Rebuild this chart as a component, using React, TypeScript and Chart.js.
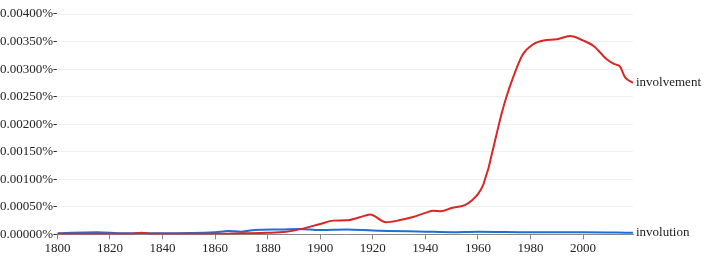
import React, { useEffect, useRef } from "react";
import { Chart, registerables } from "chart.js";

Chart.register(...registerables);

const involvementYears = [1800, 1815, 1828, 1832, 1836, 1850, 1860, 1870, 1880, 1887, 1893, 1900, 1905, 1910, 1915, 1919, 1925, 1930, 1935, 1940, 1943, 1946, 1950, 1955, 1958, 1960, 1962, 1963, 1964, 1965, 1966, 1967, 1969, 1971, 1973, 1977, 1981, 1985, 1990, 1995, 2000, 2004, 2009, 2012, 2014, 2016, 2019];
const involvementValues = [0.00001, 0.00001, 0.00001, 0.00003, 0.00001, 0.00001, 0.00001, 0.00002, 0.00003, 0.00005, 0.0001, 0.00019, 0.00025, 0.000255, 0.00031, 0.00036, 0.00022, 0.000255, 0.00031, 0.00039, 0.00043, 0.00042, 0.00048, 0.00053, 0.00063, 0.00073, 0.0009, 0.00105, 0.0012, 0.0014, 0.0016, 0.0018, 0.00219, 0.00252, 0.0028, 0.00326, 0.00345, 0.00352, 0.00354, 0.0036, 0.00352, 0.00342, 0.00318, 0.00309, 0.00305, 0.00285, 0.00275];

const involutionYears = [1800, 1815, 1825, 1840, 1860, 1865, 1870, 1875, 1885, 1892, 1900, 1910, 1920, 1940, 1950, 1960, 1980, 2000, 2019];
const involutionValues = [0.00002, 0.00004, 0.00002, 0.00002, 0.00004, 0.00006, 0.00005, 0.00008, 0.00009, 0.0001, 0.00008, 0.00009, 0.00007, 0.00005, 0.00004, 0.00005, 0.00004, 0.00004, 0.00003];

const seriesNames = ["involvement", "involution"];
const seriesColors = ["#d92626", "#1f6fd6"];

const FONT_FAMILY = "'Liberation Serif', 'Times New Roman', serif";

const endLabels = {
  id: "endLabels",
  afterDatasetsDraw(chart: any) {
    const ctx = chart.ctx;
    ctx.save();
    ctx.font = "13px " + FONT_FAMILY;
    ctx.fillStyle = "#222";
    ctx.textBaseline = "middle";
    ctx.textAlign = "left";
    chart.data.datasets.forEach((ds: any, i: number) => {
      const meta = chart.getDatasetMeta(i);
      const pt = meta.data[meta.data.length - 1];
      if (pt) ctx.fillText(ds.label, pt.x + 3, pt.y);
    });
    ctx.restore();
  },
};

export default function App() {
  const ref = useRef<HTMLCanvasElement>(null);
  useEffect(() => {
    if (!ref.current) return;
    const font = { family: FONT_FAMILY, size: 13 };
    const chart = new Chart(ref.current, {
      type: "line",
      data: {
        datasets: [
          {
            label: seriesNames[0],
            data: involvementYears.map((x, i) => ({ x, y: involvementValues[i] })),
            borderColor: seriesColors[0],
            borderWidth: 2,
            pointRadius: 0,
            cubicInterpolationMode: "monotone",
            order: 0,
          },
          {
            label: seriesNames[1],
            data: involutionYears.map((x, i) => ({ x, y: involutionValues[i] })),
            borderColor: seriesColors[1],
            borderWidth: 2,
            pointRadius: 0,
            cubicInterpolationMode: "monotone",
            order: 1,
          },
        ],
      },
      options: {
        animation: false,
        responsive: true,
        maintainAspectRatio: false,
        layout: { padding: { left: 0, right: 71, top: 14, bottom: 0 } },
        plugins: { legend: { display: false }, tooltip: { enabled: false } },
        scales: {
          x: {
            type: "linear",
            min: 1800,
            max: 2019,
            ticks: {
              stepSize: 20,
              color: "#222",
              font,
              padding: 1,
              callback: (v: any) => (Number(v) % 20 === 0 ? String(v) : ""),
            },
            afterBuildTicks: (axis: any) => {
              axis.ticks = axis.ticks.filter((t: any) => t.value % 20 === 0);
            },
            grid: { drawOnChartArea: false, drawTicks: true, tickLength: 5, color: "#888" },
            border: { color: "#888" },
          },
          y: {
            min: 0,
            max: 0.004,
            ticks: {
              stepSize: 0.0005,
              color: "#222",
              font,
              padding: 0,
              callback: (v: any) => Number(v).toFixed(5) + "%-",
            },
            grid: { color: "#efefef", drawTicks: false },
            border: { display: false },
          },
        },
      },
      plugins: [endLabels],
    });
    return () => chart.destroy();
  }, []);
  return (
    <div style={{ position: "fixed", left: 0, top: 0, width: 704, height: 257, background: "#fff" }}>
      <canvas ref={ref} />
    </div>
  );
}
